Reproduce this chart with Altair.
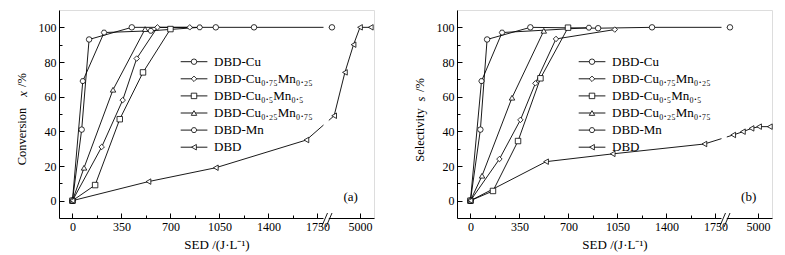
import altair as alt
import pandas as pd

FONT = "Liberation Serif"

SERIES = ["DBD-Cu", "DBD-Cu₀.₇₅Mn₀.₂₅", "DBD-Cu₀.₅Mn₀.₅",
          "DBD-Cu₀.₂₅Mn₀.₇₅", "DBD-Mn", "DBD"]
HEX = "M-1,0L-0.5,-0.866L0.5,-0.866L1,0L0.5,0.866L-0.5,0.866Z"
SHAPES = ["circle", "diamond", "square", "triangle-up", HEX, "triangle-left"]

# ---- panel (a): conversion x /% vs SED (J/L) ----
a_cu_x = [0, 66, 119, 424, 1024, 1297, 3700]
a_cu_y = [0, 41, 93, 100, 100, 100, 100]
a_c75_x = [0, 209, 359, 459, 607, 838]
a_c75_y = [0, 31, 58, 82, 100, 100]
a_c50_x = [0, 162, 338, 504, 700]
a_c50_y = [0, 9, 47, 74, 99]
a_c25_x = [0, 83, 290, 519]
a_c25_y = [0, 19, 64, 99]
a_mn_x = [0, 74, 226, 560, 909]
a_mn_y = [0, 69, 97, 98, 100]
a_dbd_x = [0, 543, 1024, 1671, 3800, 4300, 4700, 5000, 5500]
a_dbd_y = [0, 11, 19, 35, 49, 74, 90, 100, 100]

# ---- panel (b): selectivity s /% vs SED (J/L) ----
b_cu_x = [0, 71, 119, 428, 912, 1297, 3700]
b_cu_y = [0, 41, 93, 100, 99.5, 100, 100]
b_c75_x = [0, 207, 357, 464, 611, 1031]
b_c75_y = [0, 24, 46.6, 67.7, 93.3, 98.7]
b_c50_x = [0, 161, 340, 500, 697]
b_c50_y = [0, 5.6, 34.4, 70.6, 99.8]
b_c25_x = [0, 83, 297, 524]
b_c25_y = [0, 14.4, 59.4, 98]
b_mn_x = [0, 79, 226, 846]
b_mn_y = [0, 69, 97, 99.8]
b_dbd_x = [0, 540, 1016, 1671, 3850, 4300, 4700, 5050, 5550]
b_dbd_y = [0, 22.5, 27, 32.7, 37.9, 39.8, 41.7, 42.7, 42.7]

X_TICKS = [0, 350, 700, 1050, 1400, 1750, 5000]


def frame(pairs):
    rows = []
    for name, xs, ys in zip(SERIES, *zip(*pairs)):
        for xv, yv in zip(xs, ys):
            rows.append({"series": name, "sed": xv, "val": yv})
    return pd.DataFrame(rows)


df_a = frame([(a_cu_x, a_cu_y), (a_c75_x, a_c75_y), (a_c50_x, a_c50_y),
              (a_c25_x, a_c25_y), (a_mn_x, a_mn_y), (a_dbd_x, a_dbd_y)])
df_b = frame([(b_cu_x, b_cu_y), (b_c75_x, b_c75_y), (b_c50_x, b_c50_y),
              (b_c25_x, b_c25_y), (b_mn_x, b_mn_y), (b_dbd_x, b_dbd_y)])
legend_df = pd.DataFrame({"series": SERIES, "idx": list(range(len(SERIES)))})

# broken axis: left segment linear, right segment compressed around 5000
BREAK_EXPR = "datum.sed < 2500 ? datum.sed : 2054 + (datum.sed - 5000) * 0.154"


def upos(v):
    return v if v < 2500 else 2054 + (v - 5000) * 0.154


W, H = 315, 208
shape_scale = alt.Scale(domain=SERIES, range=SHAPES)
minor_x = [v for v in range(0, 1751, 175)]
x_vals = minor_x + [upos(X_TICKS[-1])]


def panel(df, ymain, yvar, tag, ymain_y, yvar_y, ypct_y):
    xenc = alt.X("u:Q", scale=alt.Scale(domain=[-96, 2154], nice=False, zero=False),
                 axis=alt.Axis(values=x_vals,
                               labelExpr="datum.value > 2000 ? '5000' : (datum.value % 350 === 0 ? '' + datum.value : '')",
                               title="SED /(J·L⁻¹)", titleFont=FONT, titleFontSize=13,
                               titleFontWeight="normal", titlePadding=6, titleColor="black",
                               labelFont=FONT, labelFontSize=12, labelColor="black",
                               labelPadding=8, labelFlush=False,
                               tickSize={"condition": {"test": "datum.value % 350 !== 0 && datum.value < 2000", "value": -3}, "value": -5},
                               tickColor="black", domainColor="black", grid=False))
    yenc = alt.Y("val:Q", scale=alt.Scale(domain=[-10, 110], nice=False, zero=False),
                 axis=alt.Axis(values=list(range(0, 101, 10)),
                               labelExpr="datum.value % 20 === 0 ? datum.label : ''",
                               title=None, labelFont=FONT, labelFontSize=12, labelColor="black",
                               labelPadding=8,
                               tickSize={"condition": {"test": "datum.value % 20 !== 0", "value": -3}, "value": -5},
                               tickColor="black", domainColor="black", grid=False))
    base = alt.Chart(df).transform_calculate(u=BREAK_EXPR)
    lines = base.mark_line(color="black", strokeWidth=0.9).encode(x=xenc, y=yenc, detail="series:N")
    pts = base.mark_point(filled=True, fill="white", stroke="black", strokeWidth=0.8,
                          size=30, opacity=1).encode(
        x=xenc, y=yenc, shape=alt.Shape("series:N", scale=shape_scale, legend=None))
    one = alt.Chart(pd.DataFrame({"k": [0]}))
    mask = one.mark_rect(color="white").encode(
        x=alt.value(264.5), x2=alt.value(269.8), y=alt.value(2), y2=alt.value(H + 2))
    slash1 = one.mark_rule(color="black", strokeWidth=0.9).encode(
        x=alt.value(262.5), x2=alt.value(268.5), y=alt.value(H + 9), y2=alt.value(H - 5))
    slash2 = one.mark_rule(color="black", strokeWidth=0.9).encode(
        x=alt.value(267), x2=alt.value(273), y=alt.value(H + 9), y2=alt.value(H - 5))
    lg = alt.Chart(legend_df).transform_calculate(ly="51.7 + datum.idx * 17.1")
    lg_rule = lg.mark_rule(color="black", strokeWidth=0.9).encode(
        x=alt.value(121.7), x2=alt.value(148.4), y=alt.Y("ly:Q", scale=None))
    lg_pt = lg.mark_point(filled=True, fill="white", stroke="black", strokeWidth=0.8,
                          size=30, opacity=1).encode(
        x=alt.value(135), y=alt.Y("ly:Q", scale=None),
        shape=alt.Shape("series:N", scale=shape_scale, legend=None))
    lg_txt = lg.mark_text(align="left", baseline="middle", font=FONT, fontSize=13,
                          color="black").encode(
        x=alt.value(155), y=alt.Y("ly:Q", scale=None), text="series:N")
    tag_txt = one.mark_text(text=tag, font=FONT, fontSize=13, color="black").encode(
        x=alt.value(291.7), y=alt.value(187.4))
    yt1 = one.mark_text(text=ymain, angle=270, font=FONT, fontSize=12.5, color="black",
                        baseline="middle").encode(x=alt.value(-36.6), y=alt.value(ymain_y))
    yt2 = one.mark_text(text=yvar, angle=270, font=FONT, fontSize=12.5, fontStyle="italic",
                        color="black", baseline="middle").encode(x=alt.value(-36), y=alt.value(yvar_y))
    yt3 = one.mark_text(text="/%", angle=270, font=FONT, fontSize=12.5, color="black",
                        baseline="middle").encode(x=alt.value(-36.6), y=alt.value(ypct_y))
    return alt.layer(lines, mask, slash1, slash2, pts, lg_rule, lg_pt, lg_txt,
                     tag_txt, yt1, yt2, yt3).properties(width=W, height=H)


pa = panel(df_a, "Conversion", "x", "(a)", 126.5, 84, 70)
pb = panel(df_b, "Selectivity", "s", "(b)", 125, 89, 75)

chart = alt.hconcat(pa, pb, spacing=37).properties(
    padding={"left": 15, "top": 9, "right": 0, "bottom": 0}
).configure_view(stroke="black", strokeWidth=1).configure(background="white")

chart.save("out.html", embed_options={"renderer": "svg", "actions": False})
